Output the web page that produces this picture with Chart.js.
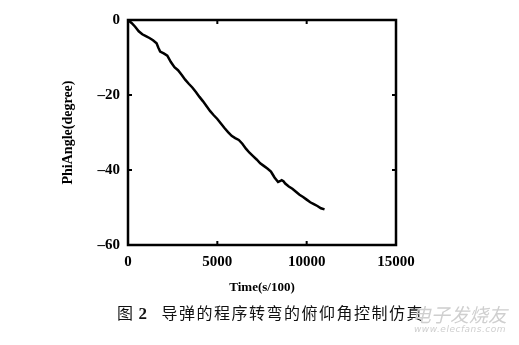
<!DOCTYPE html>
<html>
<head>
<meta charset="utf-8">
<script src="https://cdn.jsdelivr.net/npm/chart.js@4/dist/chart.umd.min.js"></script>
<style>
    html, body { margin: 0; padding: 0; background: #fff; }
    #wrap { position: relative; width: 519px; height: 345px; }
    #caption {
        position: absolute; left: 117px; top: 300px;
        font-family: "Noto Sans CJK SC", sans-serif; font-size: 16px; color: #111;
        letter-spacing: 1.5px; white-space: nowrap;
    }
    #caption b { font-family: "Liberation Serif", serif; font-size: 17px; margin-left: -1px; margin-right: 13px; }
    .wm { position: absolute; color: #cfcfcf; white-space: nowrap; font-style: italic; }
</style>
</head>
<body>
<div id="wrap">
    <canvas id="chart" width="519" height="345"></canvas>
    <div id="caption">图 <b>2</b>导弹的程序转弯的俯仰角控制仿真</div>
    <div class="wm" style="left:412px; top:300px; font-family:'Noto Sans CJK SC'; font-size:19px;">电子发烧友</div>
    <div class="wm" style="left:414px; top:324px; font-family:'DejaVu Sans'; font-size:9px; letter-spacing:0.5px;">www.elecfans.com</div>
</div>
<script>
// Datos
const tiempos = [0, 200, 400, 600, 800, 1000, 1200, 1400, 1600, 1700, 1800, 2000, 2200, 2400, 2600, 2800,
    3000, 3200, 3400, 3600, 3800, 4000, 4200, 4400, 4600, 4800, 5000, 5200, 5400, 5600, 5800, 6000,
    6200, 6400, 6600, 6800, 7000, 7200, 7400, 7600, 7800, 8000, 8100, 8200, 8300, 8400, 8500, 8600,
    8700, 8800, 9000, 9200, 9400, 9600, 9800, 10000, 10200, 10400, 10600, 10800, 11000];
const angulos = [0, -0.8, -1.8, -3.0, -3.8, -4.3, -4.8, -5.4, -6.2, -7.4, -8.4, -8.9, -9.5, -11.2, -12.6, -13.4,
    -14.6, -15.9, -17.0, -18.0, -19.2, -20.5, -21.7, -23.0, -24.3, -25.4, -26.4, -27.6, -28.8, -29.9, -30.9, -31.5,
    -32.0, -33.0, -34.3, -35.4, -36.3, -37.2, -38.2, -38.9, -39.6, -40.4, -41.2, -42.0, -42.6, -43.2, -43.0, -42.7,
    -43.0, -43.6, -44.4, -45.0, -45.8, -46.6, -47.2, -47.9, -48.6, -49.1, -49.6, -50.2, -50.5];
const ticksX = [0, 5000, 10000, 15000];
const ticksY = [0, -20, -40, -60];

const fuente = { family: '"Liberation Serif", serif', size: 15, weight: 'bold' };

// Marco negro y marcas hacia dentro
const marco = {
    id: 'marco',
    afterDraw(chart) {
        const { ctx, chartArea: a, scales } = chart;
        ctx.save();
        ctx.strokeStyle = '#000';
        ctx.lineWidth = 2.5;
        ctx.strokeRect(a.left, a.top, a.right - a.left, a.bottom - a.top);
        ctx.lineWidth = 2;
        ticksX.forEach(v => {
            const x = scales.x.getPixelForValue(v);
            ctx.beginPath();
            ctx.moveTo(x, a.bottom); ctx.lineTo(x, a.bottom - 4);
            ctx.moveTo(x, a.top); ctx.lineTo(x, a.top + 4);
            ctx.stroke();
        });
        ticksY.forEach(v => {
            const y = scales.y.getPixelForValue(v);
            ctx.beginPath();
            ctx.moveTo(a.left, y); ctx.lineTo(a.left + 4, y);
            ctx.moveTo(a.right, y); ctx.lineTo(a.right - 4, y);
            ctx.stroke();
        });
        ctx.restore();
    }
};

new Chart(document.getElementById('chart'), {
    type: 'line',
    data: {
        datasets: [{
            data: tiempos.map((t, i) => ({ x: t, y: angulos[i] })),
            borderColor: '#000',
            borderWidth: 2.5,
            pointRadius: 0,
            tension: 0
        }]
    },
    options: {
        responsive: false,
        animation: false,
        layout: { padding: { left: 0, right: 123, top: 20, bottom: 0 } },
        plugins: { legend: { display: false }, tooltip: { enabled: false } },
        scales: {
            x: {
                type: 'linear', min: 0, max: 15000,
                afterFit: s => { s.height = 100; },
                afterBuildTicks: s => { s.ticks = ticksX.map(v => ({ value: v })); },
                grid: { display: false, drawTicks: false },
                border: { display: false },
                ticks: { color: '#000', font: fuente, padding: 8, maxRotation: 0,
                    callback: v => String(v) },
                title: { display: true, text: 'Time(s/100)', color: '#000',
                    font: { family: '"Liberation Serif", serif', size: 13, weight: 'bold' }, padding: { top: 0, bottom: 50 } }
            },
            y: {
                min: -60, max: 0,
                afterFit: s => { s.width = 128; },
                afterBuildTicks: s => { s.ticks = ticksY.map(v => ({ value: v })); },
                grid: { display: false, drawTicks: false },
                border: { display: false },
                ticks: { color: '#000', font: fuente, padding: 8,
                    callback: v => String(v).replace('-', '–') },
                title: { display: true, text: 'PhiAngle(degree)', color: '#000',
                    font: { family: '"Liberation Serif", serif', size: 14, weight: 'bold' }, padding: { top: 60, bottom: 0 } }
            }
        }
    },
    plugins: [marco]
});
</script>
</body>
</html>
